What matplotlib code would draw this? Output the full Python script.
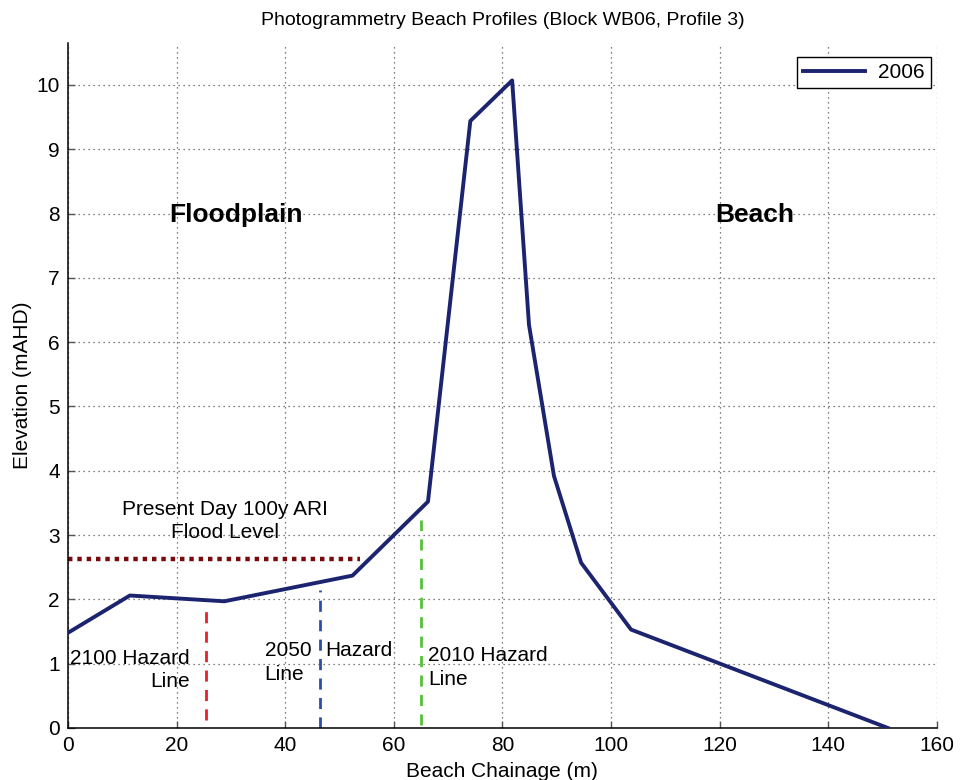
import numpy as np
import matplotlib
matplotlib.use("Agg")
import matplotlib.pyplot as plt

plt.rcParams['font.family'] = ['Liberation Sans', 'DejaVu Sans']

# ── Profile data ──────────────────────────────────────────────────────────────
chainage = [0, 11.4, 28.8, 52.4, 66.3, 74.1, 81.8, 84.9, 89.5, 94.5, 103.7, 151.0]
elevation = [1.48, 2.06, 1.97, 2.37, 3.52, 9.44, 10.07, 6.27, 3.92, 2.57, 1.53, 0.0]

flood_level = 2.62
flood_x_end = 53.7

# hazard lines: x position, bottom, top, colour
hazard_x = [25.5, 46.5, 65.0]
hazard_bottom = [0.12, 0.0, 0.05]
hazard_top = [1.92, 2.15, 3.24]
hazard_colors = ['#e8202a', '#2a4fa8', '#55c13a']

FS = 15

fig = plt.figure(figsize=(9.6, 7.8), dpi=100)
ax = fig.add_axes([0.0708, 0.0667, 0.905, 0.878])

ax.plot(chainage, elevation, color='#1c2470', linewidth=2.8, label='2006', zorder=3)

ax.plot([0, flood_x_end], [flood_level, flood_level], color='#7a0a0a',
        linestyle=(0, (1, 1.1)), linewidth=3.2, zorder=2)

for x, b, t, c in zip(hazard_x, hazard_bottom, hazard_top, hazard_colors):
    ax.plot([x, x], [b, t], color=c, linestyle=(0, (4, 3)), linewidth=2, zorder=2)

# annotations
ax.text(28.9, 3.22, 'Present Day 100y ARI\nFlood Level', ha='center', va='center',
        fontsize=FS, linespacing=1.3)
ax.text(30.9, 7.98, 'Floodplain', ha='center', va='center', fontsize=19, fontweight='bold')
ax.text(126.4, 7.98, 'Beach', ha='center', va='center', fontsize=19, fontweight='bold')
ax.text(22.4, 0.9, '2100 Hazard\nLine', ha='right', va='center', fontsize=FS,
        linespacing=1.3, multialignment='right')
ax.text(36.2, 1.02, '2050\nLine', ha='left', va='center', fontsize=FS, linespacing=1.3)
ax.text(47.3, 1.2, 'Hazard', ha='left', va='center', fontsize=FS)
ax.text(66.3, 0.94, '2010 Hazard\nLine', ha='left', va='center', fontsize=FS,
        linespacing=1.3)

ax.set_xlim(0, 160)
ax.set_ylim(0, 10.65)
ax.set_xticks(np.arange(0, 161, 20))
ax.set_yticks(np.arange(0, 11, 1))
ax.tick_params(labelsize=FS, direction='in', length=5, width=1, color='#555555', pad=6)
ax.grid(True, linestyle=(0, (1, 3)), color='#555555', linewidth=0.9)

for side in ['top', 'right']:
    ax.spines[side].set_visible(False)
for side in ['left', 'bottom']:
    ax.spines[side].set_linewidth(1.1)

ax.set_xlabel('Beach Chainage (m)', fontsize=FS, labelpad=5)
ax.set_ylabel('Elevation (mAHD)', fontsize=FS, labelpad=3)
ax.set_title('Photogrammetry Beach Profiles (Block WB06, Profile 3)', fontsize=14, pad=13)

leg = ax.legend(loc='upper right', fontsize=FS, fancybox=False, framealpha=1,
                edgecolor='black', handlelength=3.0, borderpad=0.3,
                handletextpad=0.6, borderaxespad=0, bbox_to_anchor=(0.993, 0.98))
leg.get_frame().set_linewidth(1)

fig.savefig('out.png', dpi=100)
